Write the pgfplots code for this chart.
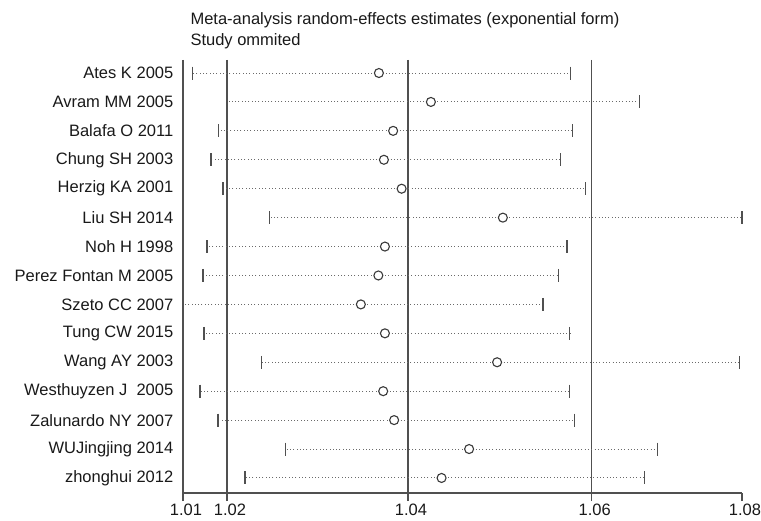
\documentclass[border=0pt]{standalone}
\usepackage{fontspec}
\setmainfont{Liberation Sans}
\usepackage{pgfplots}
\usepackage{pgfplotstable}
\pgfplotsset{compat=1.18}
\usetikzlibrary{calc}

\definecolor{refline}{HTML}{505050}
\definecolor{ciline}{HTML}{6A6A6A}
\definecolor{estmark}{HTML}{3A3A3A}

% study omitted: lower CI, estimate, upper CI
\pgfplotstableread{
row lo est hi
1 1.01624 1.03666 1.05770
2 1.02008 1.04236 1.06523
3 1.01909 1.03822 1.05788
4 1.01825 1.03721 1.05660
5 1.01956 1.03915 1.05931
6 1.02468 1.05025 1.07647
7 1.01781 1.03732 1.05729
8 1.01737 1.03660 1.05638
9 1.01518 1.03468 1.05466
10 1.01748 1.03732 1.05759
11 1.02376 1.04962 1.07619
12 1.01704 1.03713 1.05759
13 1.01901 1.03833 1.05810
14 1.02639 1.04655 1.06723
15 1.02197 1.04353 1.06581
}\omitted

\begin{document}
\begin{tikzpicture}
\begin{axis}[
  name=ax,
  width=559pt, height=433pt, scale only axis,
  xmin=1.01518, xmax=1.07647,
  ymin=0.55, ymax=15.52, y dir=reverse,
  axis x line*=bottom, axis y line*=left,
  axis line style={-, draw=refline, line width=1.3pt},
  xtick={1.01518,1.02,1.03984,1.06,1.07647},
  xticklabels={1.01,1.02,1.04,1.06,1.08},
  ytick={1,...,15},
  yticklabels={Ates K 2005, Avram MM 2005, Balafa O 2011, Chung SH 2003,
    Herzig KA 2001, Liu SH 2014, Noh H 1998, Perez Fontan M 2005,
    Szeto CC 2007, Tung CW 2015, Wang AY 2003, Westhuyzen J\ \ 2005,
    Zalunardo NY 2007, WUJingjing 2014, zhonghui 2012},
  tick align=outside,
  major tick length=8pt,
  x tick style={draw=refline, line width=1.3pt},
  y tick style={draw=none},
  tick label style={font=\fontsize{16.5}{19}\selectfont, text=black!90},
  yticklabel style={inner sep=1.5pt},
  xticklabel style={inner sep=3pt, xshift=3pt},
  /pgf/number format/assume math mode=true,
  clip=false,
]
  % reference lines: overall lower CI, estimate, upper CI
  \addplot[refline, line width=1.3pt] coordinates {(1.02,0.55) (1.02,15.52)};
  \addplot[refline, line width=1.3pt] coordinates {(1.03984,0.55) (1.03984,15.52)};
  \addplot[refline, line width=1.3pt] coordinates {(1.06,0.55) (1.06,15.52)};

  % dotted confidence intervals
  \addplot[only marks, mark=none,
    error bars/.cd, x dir=both, x explicit, error mark=none,
    error bar style={ciline, line width=1pt, dash pattern=on 1pt off 2.3pt}]
    table[x=est, y=row,
      x error plus expr={\thisrow{hi}-\thisrow{est}},
      x error minus expr={\thisrow{est}-\thisrow{lo}}] {\omitted};

  % interval ends
  \addplot[only marks, mark=|, mark size=6.5pt,
    mark options={draw=refline, line width=1.3pt}]
    table[x=lo, y=row] {\omitted};
  \addplot[only marks, mark=|, mark size=6.5pt,
    mark options={draw=refline, line width=1.3pt}]
    table[x=hi, y=row] {\omitted};

  % estimates
  \addplot[only marks, mark=*, mark size=4.5pt,
    mark options={draw=estmark, fill=white, line width=1.1pt}]
    table[x=est, y=row] {\omitted};
\end{axis}
\node[anchor=base west, font=\fontsize{16.5}{19}\selectfont, text=black!90]
  at ($(ax.north west)+(4pt,35pt)$) {Meta-analysis random-effects estimates (exponential form)};
\node[anchor=base west, font=\fontsize{16.5}{19}\selectfont, text=black!90]
  at ($(ax.north west)+(4pt,14pt)$) {Study ommited};
\pgfresetboundingbox
\path[use as bounding box] ($(ax.south west)+(-183pt,-28pt)$) rectangle ($(ax.north east)+(19pt,60pt)$);
\end{tikzpicture}
\end{document}
